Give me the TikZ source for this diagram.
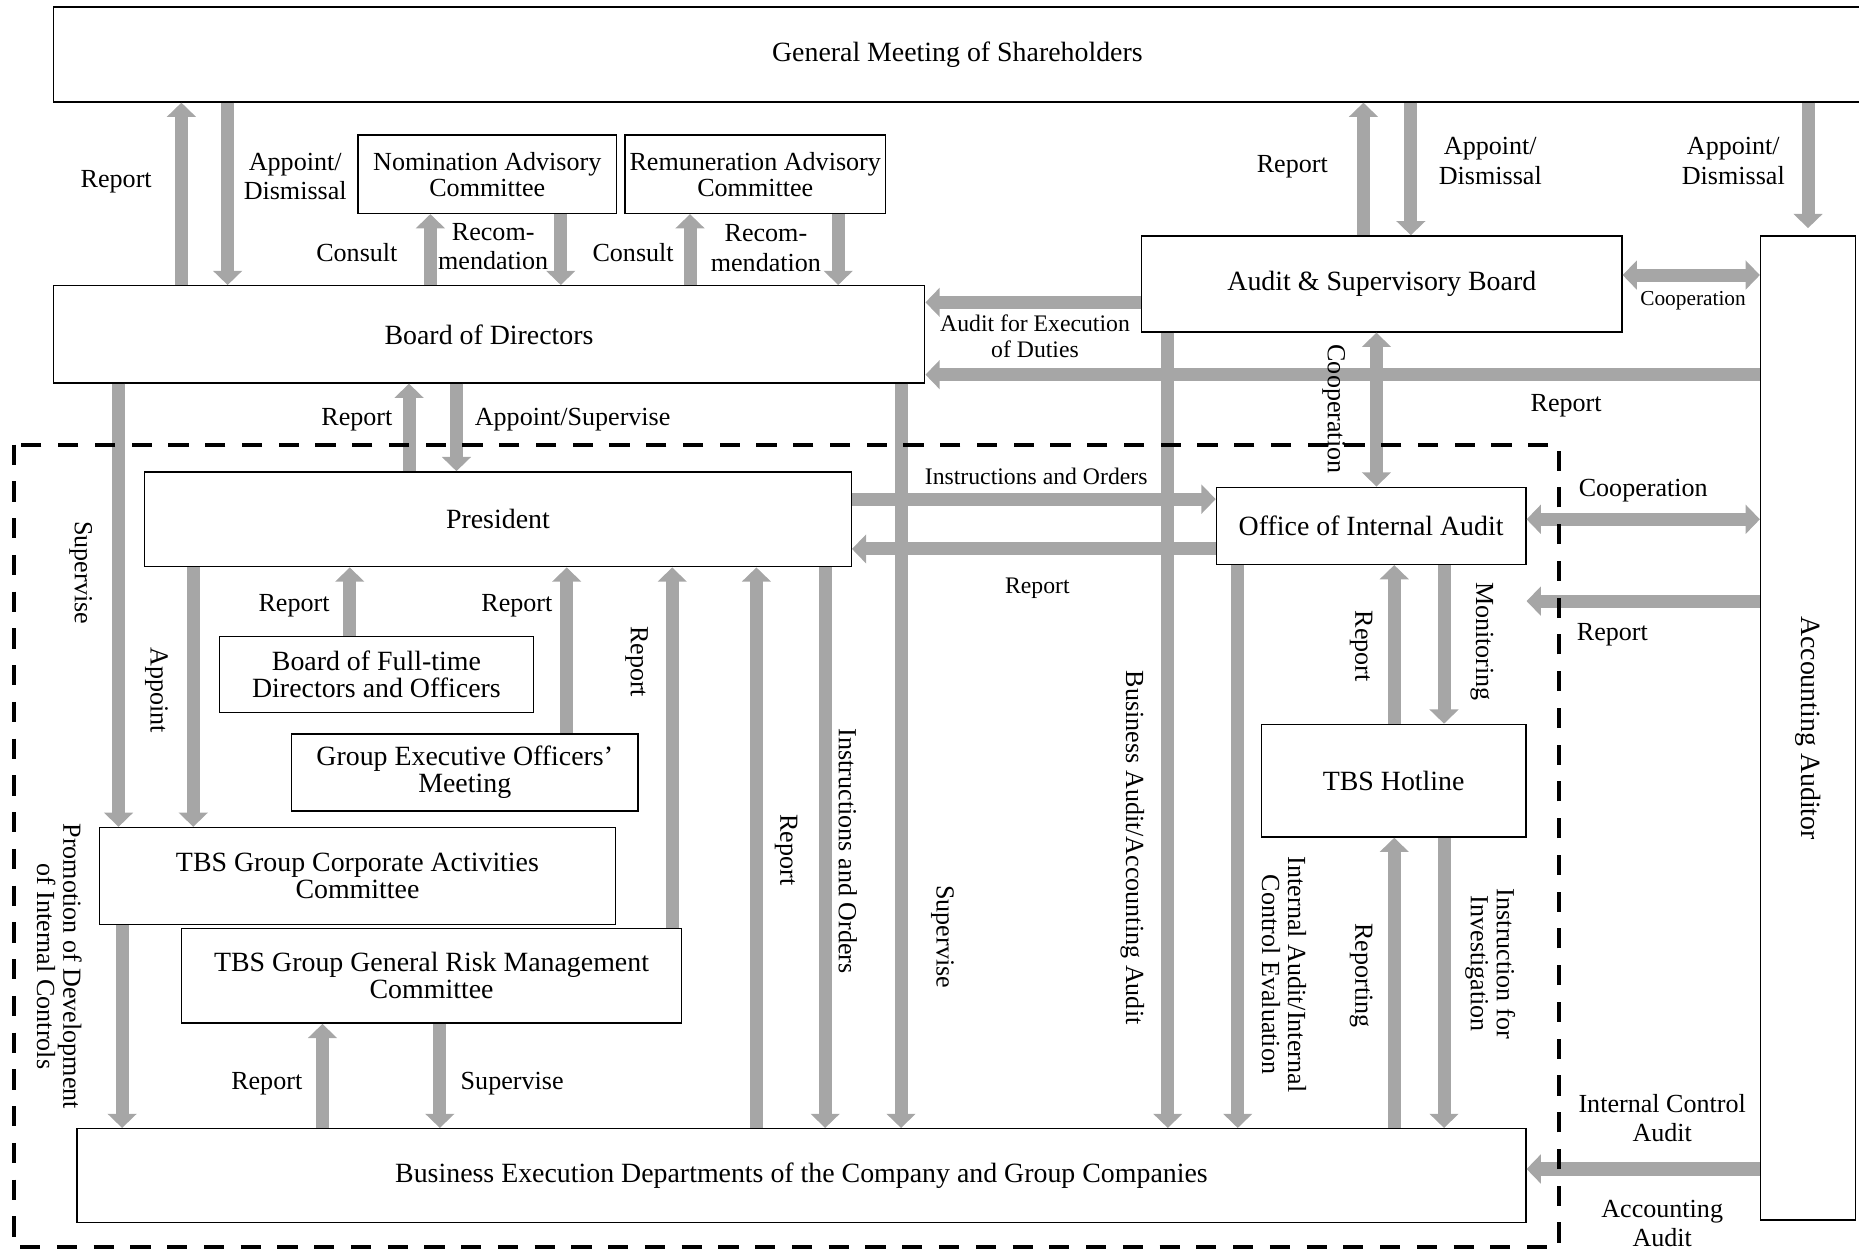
\documentclass[tikz,border=0pt]{standalone}
\usepackage{fontspec}
\setmainfont{Liberation Serif}
\usepackage{xcolor}
\usetikzlibrary{positioning,calc,arrows.meta}
\definecolor{arrowgray}{HTML}{A6A6A6}

\begin{document}
\begin{tikzpicture}[x=0.5pt, y=-0.5pt]
    % Styles
    \tikzstyle{unit} = [draw, fill=white, rectangle, inner sep=0pt, line width=0.6pt, align=center, font=\fontsize{11.75}{11.5}\selectfont]
    \tikzstyle{label text} = [align=center, inner sep=1pt, font=\fontsize{11}{12.5}\selectfont]
    \tikzstyle{small text} = [align=center, inner sep=1pt, font=\fontsize{10}{11}\selectfont]
    \tikzstyle{vlabel} = [label text, rotate=-90, font=\fontsize{11}{11}\selectfont]
    \tikzstyle{flow} = [draw=arrowgray, line width=5.5pt, -{Triangle[width=12pt,length=6pt]}]
    \tikzstyle{flow both} = [draw=arrowgray, line width=5.5pt, {Triangle[width=12pt,length=6pt]}-{Triangle[width=12pt,length=6pt]}]
    \tikzstyle{boundary} = [draw, line width=1.7pt, dash pattern=on 8.5pt off 7pt]

    \useasboundingbox (0,0) rectangle (1568,1056);

    % Nodes
    \node [unit, minimum width=762.5pt, minimum height=40pt] (GM) at (807.5,46) {General Meeting of Shareholders};
    \node [unit, minimum width=109pt, minimum height=33pt, font=\fontsize{11}{11}\selectfont] (Nom) at (411,147) {Nomination Advisory\\Committee};
    \node [unit, minimum width=110pt, minimum height=33pt, font=\fontsize{11}{11}\selectfont] (Rem) at (637,147) {Remuneration Advisory\\Committee};
    \node [unit, minimum width=367.5pt, minimum height=41pt] (BoD) at (412.5,282) {Board of Directors};
    \node [unit, minimum width=202.5pt, minimum height=40.5pt] (ASB) at (1165.5,239.5) {Audit \& Supervisory Board};
    \node [unit, minimum width=40pt, minimum height=415pt] (AA) at (1525,614) {};
    \node [rotate=-90, font=\fontsize{11.75}{11.5}\selectfont] (AAtext) at (AA.center) {Accounting Auditor};
    \node [unit, minimum width=298pt, minimum height=40pt] (Pres) at (420,438) {President};
    \node [unit, minimum width=130.5pt, minimum height=32.5pt] (OIA) at (1156.5,443.5) {Office of Internal Audit};
    \node [unit, minimum width=132.5pt, minimum height=32pt] (BFD) at (317.5,569) {Board of Full-time\\Directors and Officers};
    \node [unit, minimum width=146pt, minimum height=32.5pt] (GEOM) at (392,651.5) {Group Executive Officers'\\Meeting};
    \node [unit, minimum width=217.5pt, minimum height=41pt] (TGCAC) at (301.5,739) {TBS Group Corporate Activities\\Committee};
    \node [unit, minimum width=211pt, minimum height=40pt] (TGRMC) at (364,823) {TBS Group General Risk Management\\Committee};
    \node [unit, minimum width=111.5pt, minimum height=47.5pt] (TH) at (1175.5,658.5) {TBS Hotline};
    \node [unit, minimum width=611pt, minimum height=39.5pt] (BED) at (676,991.5) {Business Execution Departments of the Company and Group Companies};

    % Connections
    \draw [flow] (153,0 |- BoD.north) -- (153,0 |- GM.south);
    \draw [flow] (192,0 |- GM.south) -- (192,0 |- BoD.north);
    \draw [flow] (363,0 |- BoD.north) -- (363,0 |- Nom.south);
    \draw [flow] (473,0 |- Nom.south) -- (473,0 |- BoD.north);
    \draw [flow] (582,0 |- BoD.north) -- (582,0 |- Rem.south);
    \draw [flow] (707,0 |- Rem.south) -- (707,0 |- BoD.north);
    \draw [flow] (1150,0 |- ASB.north) -- (1150,0 |- GM.south);
    \draw [flow] (1190,0 |- GM.south) -- (1190,0 |- ASB.north);
    \draw [flow, shorten >=3pt] (1525,0 |- GM.south) -- (AA.north);
    \draw [flow both] (ASB.east |- 0,232) -- (AA.west |- 0,232);
    \draw [flow] (ASB.west |- 0,255) -- (BoD.east |- 0,255);
    \draw [flow] (AA.west |- 0,316) -- (BoD.east |- 0,316);
    \draw [flow] (985,0 |- ASB.south) -- (985,0 |- BED.north);
    \draw [flow both] (1161,0 |- ASB.south) -- (1161,0 |- OIA.north);
    \draw [flow] (760,0 |- BoD.south) -- (760,0 |- BED.north);
    \draw [flow] (100,0 |- BoD.south) -- (100,0 |- TGCAC.north);
    \draw [flow] (345,0 |- Pres.north) -- (345,0 |- BoD.south);
    \draw [flow] (385,0 |- BoD.south) -- (385,0 |- Pres.north);
    \draw [flow] (Pres.east |- 0,421) -- (OIA.west |- 0,421);
    \draw [flow] (OIA.west |- 0,463) -- (Pres.east |- 0,463);
    \draw [flow both] (OIA.east |- 0,438) -- (AA.west |- 0,438);
    \draw [flow] (AA.west |- 0,507) -- (OIA.east |- 0,507);
    \draw [flow] (AA.west |- 0,986) -- (BED.east |- 0,986);
    \draw [flow] (163,0 |- Pres.south) -- (163,0 |- TGCAC.north);
    \draw [flow] (295,0 |- BFD.north) -- (295,0 |- Pres.south);
    \draw [flow] (478,0 |- GEOM.north) -- (478,0 |- Pres.south);
    \draw [flow] (567,0 |- TGRMC.north) -- (567,0 |- Pres.south);
    \draw [flow] (638,0 |- BED.north) -- (638,0 |- Pres.south);
    \draw [flow] (696,0 |- Pres.south) -- (696,0 |- BED.north);
    \draw [flow] (103,0 |- TGCAC.south) -- (103,0 |- BED.north);
    \draw [flow] (272,0 |- BED.north) -- (272,0 |- TGRMC.south);
    \draw [flow] (371,0 |- TGRMC.south) -- (371,0 |- BED.north);
    \draw [flow] (1044,0 |- OIA.south) -- (1044,0 |- BED.north);
    \draw [flow] (1176,0 |- TH.north) -- (1176,0 |- OIA.south);
    \draw [flow] (1218,0 |- OIA.south) -- (1218,0 |- TH.north);
    \draw [flow] (1176,0 |- BED.north) -- (1176,0 |- TH.south);
    \draw [flow] (1218,0 |- TH.south) -- (1218,0 |- BED.north);

    % Internal control boundary
    \draw [boundary] (12,375) rectangle (1315,1052);

    % Labels
    \node [label text] (repGM) at (98,153) {Report};
    \node [label text] (apGM) at (249,149) {Appoint/\\Dismissal};
    \node [label text] (conNom) at (301,213) {Consult};
    \node [label text] (recNom) at (416,208) {Recom-\\mendation};
    \node [label text] (conRem) at (534,213) {Consult};
    \node [label text] (recRem) at (646,209) {Recom-\\mendation};
    \node [label text] (repASB) at (1090,141) {Report};
    \node [label text] (apASB) at (1257,136) {Appoint/\\Dismissal};
    \node [label text] (apAA) at (1462,136) {Appoint/\\Dismissal};
    \node [small text, font=\fontsize{9}{10}\selectfont] (coASB) at (1428,254) {Cooperation};
    \node [small text] (audExec) at (873,284) {Audit for Execution\\of Duties};
    \node [label text] (repAA) at (1321,342) {Report};
    \node [vlabel] (busAud) at (955,715) {Business Audit/Accounting Audit};
    \node [vlabel] (coOIA) at (1125,345) {Cooperation};
    \node [vlabel] (supBED) at (795,790) {Supervise};
    \node [vlabel] (supTG) at (68,483) {Supervise};
    \node [label text] (repPres) at (301,354) {Report};
    \node [label text] (apPres) at (483,354) {Appoint/Supervise};
    \node [small text] (insOIA) at (874,402) {Instructions and Orders};
    \node [small text] (repOIA) at (875,496) {Report};
    \node [label text] (coAA) at (1386,414) {Cooperation};
    \node [label text] (repAAOIA) at (1360,535) {Report};
    \node [label text] (icAud) at (1402,943) {Internal Control\\Audit};
    \node [label text] (accAud) at (1402,1032) {Accounting\\Audit};
    \node [vlabel] (apTG) at (132,582) {Appoint};
    \node [label text] (repBFD) at (248,511) {Report};
    \node [label text] (repGEOM) at (436,511) {Report};
    \node [vlabel] (repRM) at (537,558) {Report};
    \node [vlabel] (repBED) at (663,717) {Report};
    \node [vlabel] (insBED) at (715,718) {Instructions and Orders};
    \node [vlabel] (promIC) at (50,815) {Promotion of Development\\of Internal Controls};
    \node [label text] (repRMB) at (225,914) {Report};
    \node [label text] (supRM) at (432,914) {Supervise};
    \node [vlabel] (iaEval) at (1083,822) {Internal Audit/Internal\\Control Evaluation};
    \node [vlabel] (repTH) at (1148,545) {Report};
    \node [vlabel] (monTH) at (1250,541) {Monitoring};
    \node [vlabel] (repgTH) at (1148,823) {Reporting};
    \node [vlabel] (invTH) at (1257,813) {Instruction for\\Investigation};
\end{tikzpicture}
\end{document}
